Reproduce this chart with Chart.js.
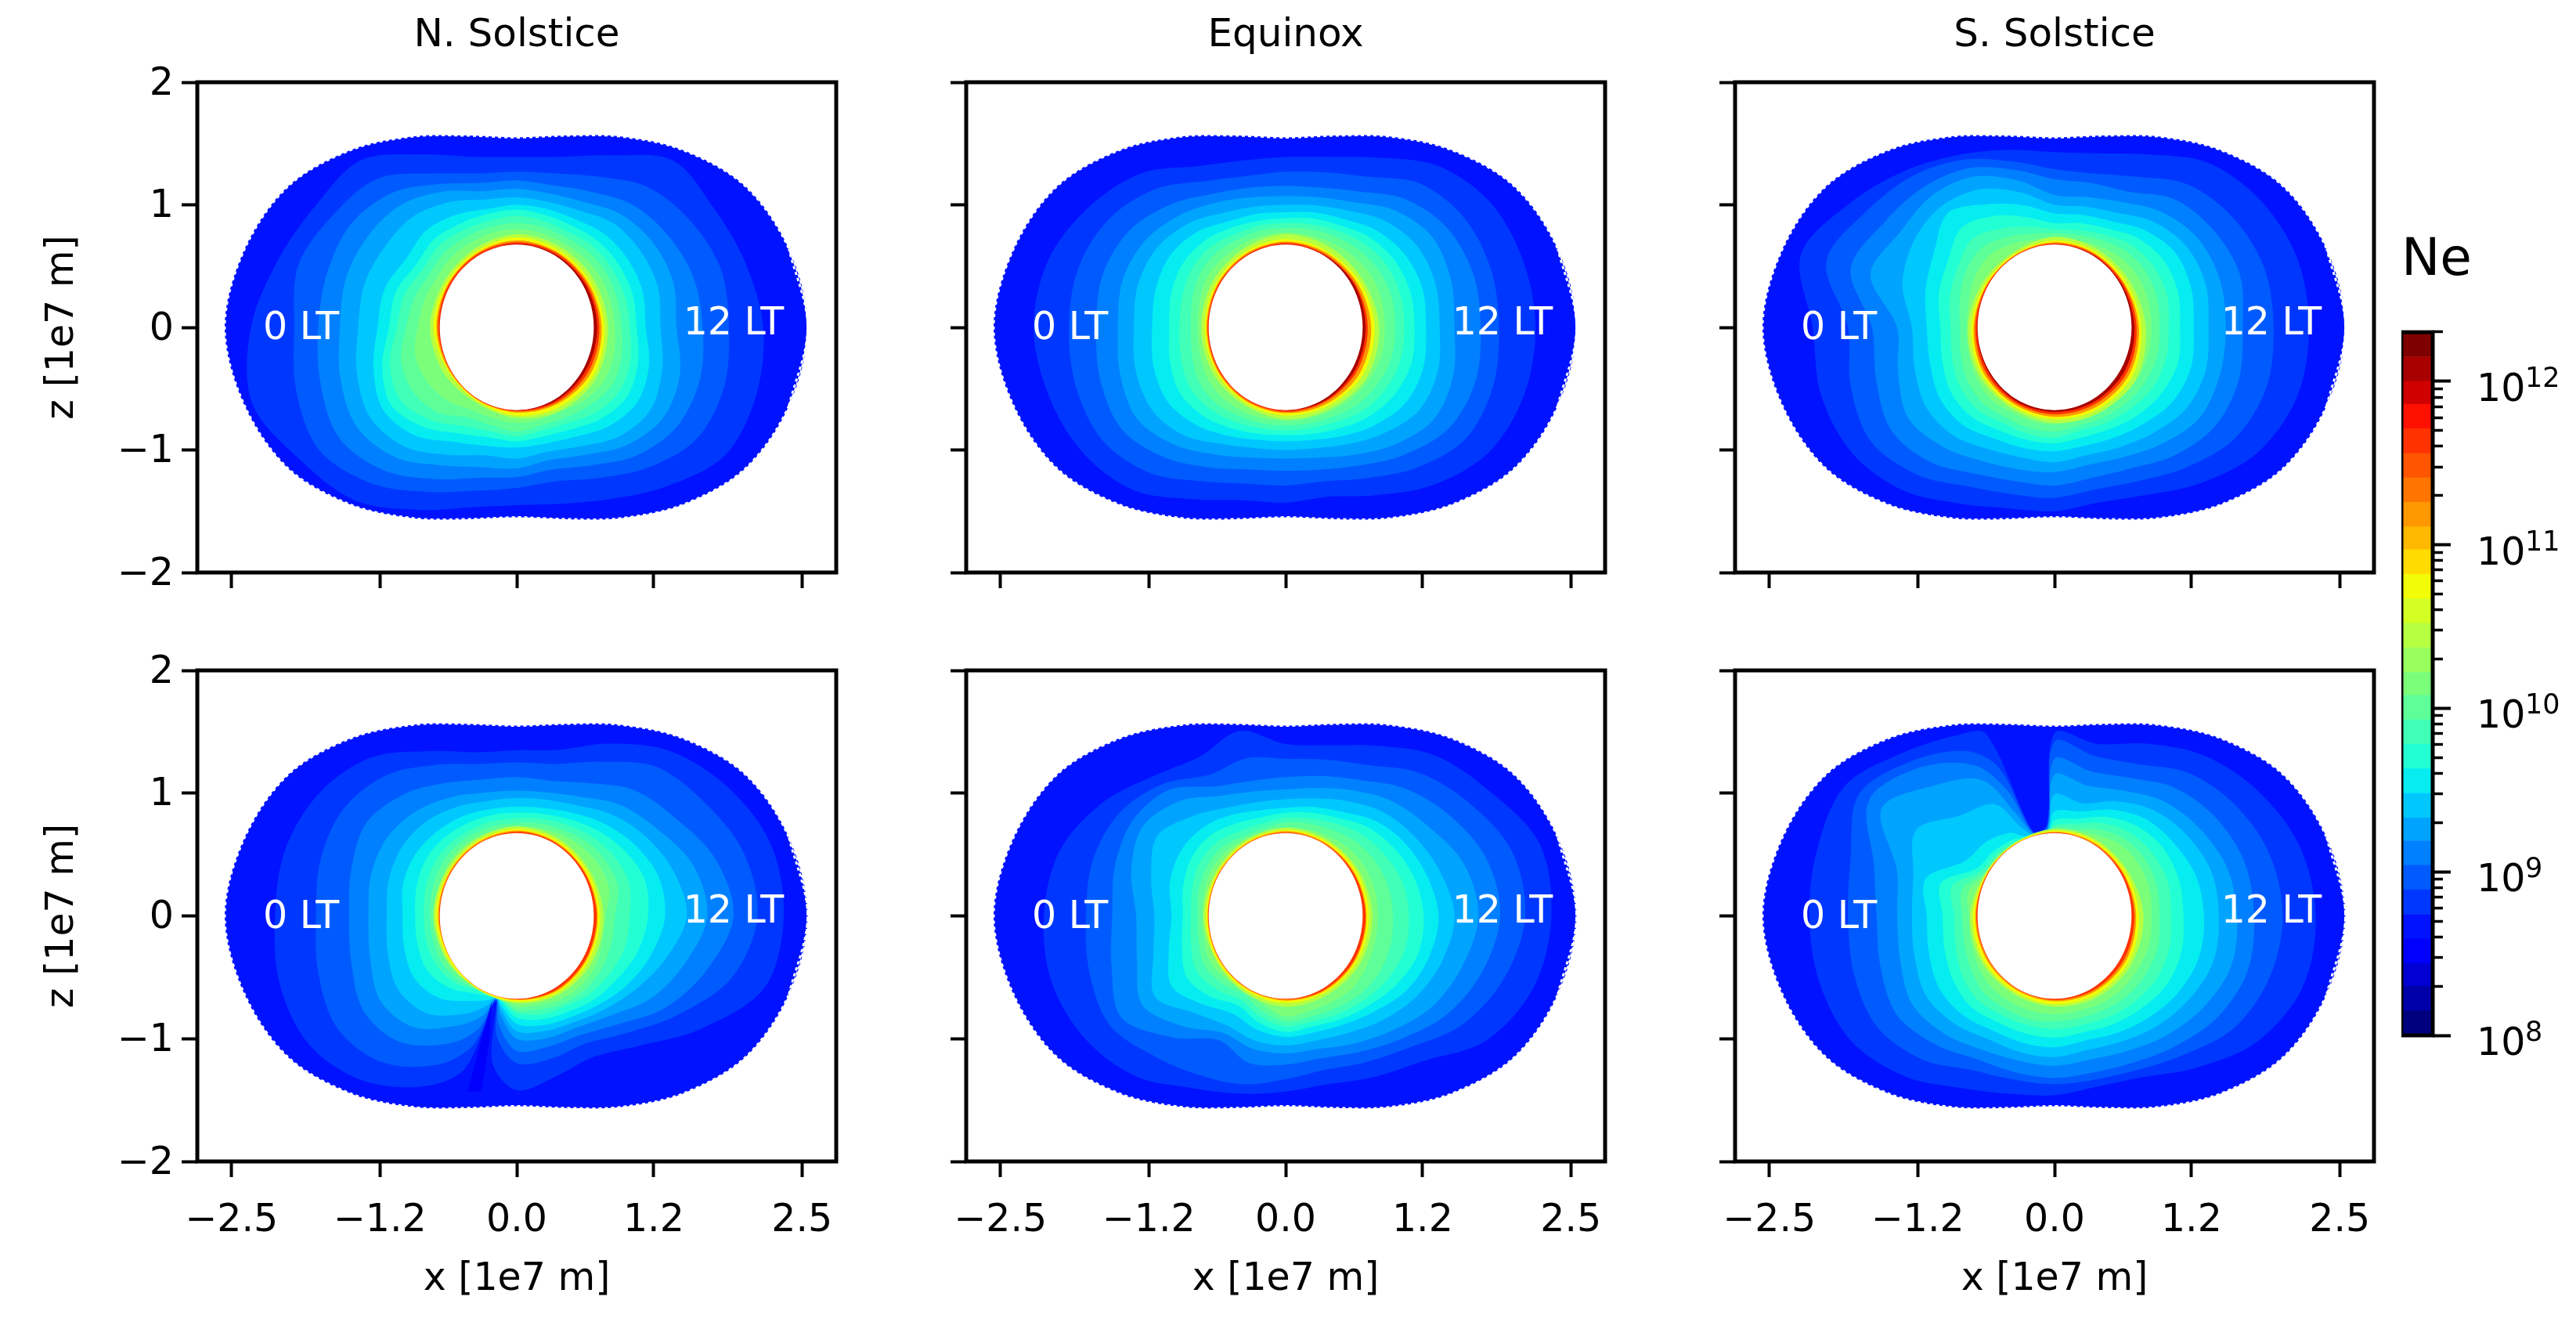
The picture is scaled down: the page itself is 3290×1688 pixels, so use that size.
<!DOCTYPE html>
<html>
<head>
<meta charset="utf-8">
<title>Ne</title>
<script src="https://cdn.jsdelivr.net/npm/chart.js@4"></script>
<style>
  html, body { margin: 0; background: #fff; }
  #page { position: relative; width: 3290px; height: 1688px; overflow: hidden; }
  canvas { position: absolute; }
</style>
</head>
<body>
<div id="page"></div>
<script>
// ray angles in degrees, radii below are in 1e7 m along these rays
const rays = [0,15,30,45,60,75,90,105,120,135,150,165,180,195,210,225,240,255,270,285,300,315,330,345];
const raysNotchBottom = [0,15,30,45,60,75,90,105,120,135,150,165,180,195,210,225,240,250,255,260,270,285,300,315,330,345];
const raysNotchTop = [0,15,30,45,60,75,90,95,105,112,120,135,150,165,180,195,210,225,240,255,270,285,300,315,330,345];
const rimRays = [0,30,60,90,120,150,180,210,240,270,300,330];

const outerRadii = [2.55,2.47,2.31,2.05,1.8,1.62,1.55,1.62,1.8,2.05,2.31,2.47,2.56,2.47,2.31,2.05,1.8,1.62,1.55,1.62,1.8,2.05,2.31,2.47];
const holeRadius = [0.675,0.675,0.675,0.675,0.675,0.675,0.675,0.675,0.675,0.675,0.675,0.675,0.675,0.675,0.675,0.675,0.675,0.675,0.675,0.675,0.675,0.675,0.675,0.675];

// colours of the contour bands, outermost first
const outerColor = '#0012ff';
const bandColors = ['#0037ff','#005bff','#0080ff','#00a4ff','#00c8ff','#06edf1','#23ffd4','#41ffb6','#5eff99','#7bff7b'];
const rimColors = ['#b6ff41','#f1fc06','#ff9700','#ff3200','#a80000'];

// N. Solstice, top row
const nsTopBands = [
  [2.16,2.07,1.98,1.93,1.62,1.44,1.39,1.44,1.63,1.93,2.02,2.16,2.33,2.40,2.18,2.0,1.72,1.52,1.45,1.49,1.62,1.84,2.1,2.17],
  [1.86,1.85,1.75,1.62,1.42,1.3,1.27,1.3,1.45,1.72,1.85,1.98,1.95,2.0,2.0,1.8,1.55,1.38,1.31,1.3,1.42,1.62,1.82,1.88],
  [1.63,1.6,1.52,1.42,1.28,1.2,1.2,1.22,1.35,1.55,1.68,1.72,1.74,1.78,1.8,1.65,1.43,1.27,1.22,1.2,1.3,1.48,1.62,1.66],
  [1.4,1.42,1.38,1.3,1.18,1.13,1.13,1.15,1.28,1.42,1.5,1.55,1.55,1.6,1.62,1.5,1.3,1.18,1.15,1.12,1.2,1.36,1.48,1.48],
  [1.26,1.28,1.25,1.2,1.1,1.06,1.06,1.08,1.18,1.28,1.33,1.38,1.39,1.45,1.48,1.38,1.2,1.08,1.07,1.05,1.12,1.26,1.35,1.32],
  [1.13,1.14,1.12,1.08,1.02,1.0,1.0,1.0,1.06,1.12,1.12,1.2,1.22,1.3,1.35,1.25,1.08,1.0,0.98,0.98,1.03,1.14,1.22,1.2],
  [1.05,1.05,1.03,1.0,0.96,0.95,0.96,0.96,0.98,1.02,1.02,1.1,1.12,1.22,1.27,1.15,1.0,0.93,0.93,0.92,0.96,1.05,1.12,1.1],
  [0.99,0.98,0.96,0.94,0.9,0.9,0.91,0.9,0.92,0.95,0.95,1.02,1.05,1.15,1.18,1.07,0.93,0.88,0.89,0.87,0.9,0.98,1.04,1.03],
  [0.92,0.91,0.9,0.88,0.85,0.85,0.85,0.85,0.86,0.88,0.88,0.93,0.97,1.05,1.05,0.98,0.85,0.83,0.85,0.83,0.85,0.9,0.96,0.95],
  [0.86,0.85,0.84,0.82,0.8,0.8,0.8,0.8,0.8,0.81,0.81,0.84,0.87,0.92,0.9,0.85,0.78,0.77,0.78,0.78,0.79,0.84,0.88,0.88]
];
const nsTopRim = [
  [0.8,0.78,0.76,0.76,0.74,0.74,0.76,0.74,0.71,0.74,0.78,0.81],
  [0.77,0.745,0.73,0.735,0.715,0.715,0.73,0.7,0.695,0.72,0.75,0.78],
  [0.745,0.725,0.71,0.71,0.7,0.7,0.705,0.69,0.685,0.695,0.72,0.75],
  [0.725,0.71,0.7,0.695,0.69,0.69,0.69,0.68,0.68,0.685,0.705,0.725],
  [0.705,0.695,0.685,0.68,0.675,0.675,0.675,0.675,0.675,0.675,0.69,0.7]
];

// Equinox, top row
const eqTopBands = [
  [2.19,2.15,2.06,1.87,1.6,1.44,1.39,1.41,1.52,1.78,1.98,2.15,2.21,2.15,2.05,1.88,1.62,1.46,1.43,1.43,1.58,1.82,2.05,2.16],
  [1.87,1.86,1.8,1.66,1.42,1.31,1.27,1.28,1.38,1.6,1.78,1.88,1.9,1.9,1.85,1.68,1.45,1.32,1.29,1.3,1.42,1.62,1.82,1.88],
  [1.71,1.7,1.63,1.48,1.28,1.18,1.155,1.18,1.26,1.42,1.58,1.66,1.66,1.68,1.66,1.5,1.32,1.2,1.17,1.2,1.3,1.47,1.65,1.72],
  [1.48,1.5,1.48,1.35,1.18,1.1,1.07,1.1,1.18,1.3,1.42,1.48,1.47,1.5,1.5,1.36,1.2,1.1,1.07,1.1,1.2,1.35,1.5,1.52],
  [1.35,1.36,1.33,1.23,1.1,1.03,1.0,1.02,1.08,1.2,1.3,1.34,1.33,1.36,1.35,1.25,1.1,1.02,1.0,1.02,1.1,1.22,1.35,1.38],
  [1.23,1.24,1.2,1.12,1.02,0.97,0.94,0.96,1.0,1.1,1.17,1.18,1.17,1.2,1.2,1.12,1.02,0.95,0.93,0.95,1.02,1.12,1.22,1.25],
  [1.13,1.13,1.1,1.04,0.96,0.92,0.89,0.9,0.94,1.0,1.04,1.04,1.02,1.05,1.07,1.02,0.95,0.9,0.88,0.9,0.95,1.03,1.1,1.14],
  [1.04,1.04,1.02,0.97,0.91,0.87,0.85,0.86,0.88,0.93,0.95,0.94,0.93,0.95,0.97,0.94,0.89,0.85,0.84,0.85,0.89,0.96,1.01,1.04],
  [0.96,0.96,0.94,0.9,0.86,0.83,0.81,0.82,0.83,0.86,0.87,0.85,0.83,0.85,0.88,0.87,0.83,0.81,0.8,0.81,0.84,0.89,0.93,0.96],
  [0.87,0.87,0.86,0.83,0.8,0.78,0.775,0.775,0.78,0.79,0.8,0.78,0.77,0.78,0.8,0.8,0.78,0.77,0.76,0.77,0.79,0.82,0.85,0.87]
];
const eqTopRim = [
  [0.82,0.78,0.76,0.76,0.74,0.74,0.74,0.74,0.73,0.75,0.77,0.82],
  [0.78,0.75,0.72,0.72,0.71,0.71,0.71,0.71,0.71,0.72,0.74,0.78],
  [0.75,0.725,0.705,0.7,0.695,0.695,0.695,0.695,0.695,0.7,0.72,0.75],
  [0.72,0.705,0.69,0.69,0.685,0.685,0.685,0.685,0.685,0.69,0.7,0.72],
  [0.7,0.695,0.68,0.675,0.675,0.675,0.675,0.675,0.675,0.675,0.69,0.7]
];

// S. Solstice, top row
const ssTopBands = [
  [2.23,2.2,2.08,1.9,1.63,1.47,1.43,1.5,1.63,1.82,2.05,2.3,2.12,2.12,2.05,1.88,1.66,1.53,1.5,1.48,1.58,1.8,2.05,2.2],
  [1.92,1.9,1.8,1.65,1.42,1.3,1.29,1.4,1.58,1.75,1.9,2.07,1.81,1.85,1.86,1.7,1.5,1.41,1.39,1.37,1.45,1.62,1.82,1.92],
  [1.65,1.68,1.6,1.48,1.28,1.22,1.21,1.33,1.5,1.62,1.72,1.85,1.6,1.62,1.66,1.55,1.38,1.3,1.29,1.27,1.33,1.48,1.62,1.67],
  [1.5,1.5,1.45,1.33,1.18,1.1,1.08,1.24,1.42,1.52,1.56,1.67,1.38,1.42,1.48,1.38,1.26,1.2,1.18,1.16,1.22,1.34,1.47,1.5],
  [1.35,1.37,1.33,1.22,1.08,1.02,1.0,1.14,1.3,1.4,1.42,1.38,1.25,1.27,1.3,1.25,1.15,1.1,1.1,1.08,1.13,1.22,1.33,1.37],
  [1.22,1.24,1.22,1.12,1.0,0.95,0.93,1.03,1.16,1.32,1.22,1.17,1.12,1.13,1.16,1.13,1.05,1.02,1.01,1.0,1.04,1.11,1.2,1.24],
  [1.1,1.12,1.1,1.03,0.93,0.88,0.85,0.93,1.05,1.15,1.08,1.05,1.0,1.02,1.05,1.03,0.97,0.95,0.945,0.93,0.96,1.02,1.08,1.12],
  [1.0,1.02,1.0,0.95,0.87,0.82,0.8,0.85,0.93,1.02,0.98,0.95,0.91,0.93,0.96,0.95,0.9,0.9,0.9,0.87,0.9,0.94,0.99,1.01],
  [0.92,0.93,0.92,0.88,0.82,0.78,0.77,0.79,0.85,0.91,0.9,0.86,0.83,0.85,0.88,0.88,0.85,0.85,0.85,0.83,0.85,0.88,0.91,0.93],
  [0.85,0.85,0.84,0.81,0.77,0.74,0.73,0.74,0.78,0.82,0.81,0.78,0.77,0.78,0.8,0.81,0.79,0.79,0.79,0.78,0.79,0.81,0.84,0.85]
];
const ssTopRim = [
  [0.8,0.76,0.74,0.74,0.71,0.73,0.76,0.77,0.76,0.78,0.8,0.83],
  [0.76,0.73,0.715,0.71,0.695,0.705,0.73,0.745,0.74,0.75,0.77,0.79],
  [0.74,0.71,0.7,0.695,0.685,0.69,0.71,0.725,0.72,0.73,0.745,0.76],
  [0.72,0.7,0.69,0.685,0.68,0.685,0.695,0.705,0.705,0.71,0.72,0.735],
  [0.7,0.685,0.68,0.675,0.675,0.675,0.68,0.685,0.69,0.69,0.7,0.71]
];

// N. Solstice, bottom row, dark notch near 255 degrees
const nsBotBands = [
  [2.34,2.3,2.12,1.9,1.62,1.4,1.35,1.38,1.55,1.82,2.0,2.1,2.12,2.15,2.1,1.9,1.6,1.32,0.72,1.22,1.42,1.35,1.33,1.5,1.85,2.25],
  [2.11,2.05,1.88,1.72,1.45,1.28,1.25,1.28,1.42,1.62,1.75,1.78,1.76,1.8,1.82,1.68,1.4,1.12,0.71,1.0,1.2,1.2,1.2,1.35,1.62,1.95],
  [1.9,1.8,1.6,1.45,1.25,1.14,1.13,1.15,1.25,1.4,1.52,1.5,1.47,1.5,1.55,1.45,1.2,0.98,0.7,0.9,1.1,1.1,1.12,1.25,1.5,1.72],
  [1.67,1.6,1.42,1.28,1.12,1.04,1.02,1.04,1.12,1.22,1.3,1.32,1.3,1.33,1.38,1.28,1.03,0.86,0.7,0.82,1.0,1.03,1.05,1.15,1.35,1.52],
  [1.49,1.42,1.3,1.17,1.04,0.98,0.96,0.97,1.03,1.1,1.15,1.16,1.14,1.17,1.2,1.12,0.92,0.78,0.69,0.78,0.94,0.97,1.0,1.08,1.2,1.35],
  [1.3,1.28,1.18,1.07,0.97,0.91,0.89,0.9,0.94,0.98,1.02,1.03,1.0,1.02,1.03,0.95,0.8,0.73,0.69,0.75,0.88,0.92,0.95,1.02,1.12,1.22],
  [1.15,1.16,1.08,0.99,0.91,0.86,0.84,0.85,0.87,0.9,0.92,0.91,0.89,0.9,0.9,0.83,0.73,0.7,0.68,0.72,0.83,0.87,0.9,0.96,1.02,1.1],
  [0.99,1.02,0.98,0.92,0.86,0.82,0.795,0.8,0.81,0.83,0.84,0.83,0.815,0.82,0.81,0.77,0.7,0.69,0.68,0.71,0.79,0.83,0.85,0.9,0.94,0.98],
  [0.86,0.92,0.9,0.86,0.81,0.78,0.755,0.76,0.77,0.78,0.78,0.77,0.76,0.76,0.76,0.73,0.69,0.68,0.68,0.7,0.77,0.79,0.82,0.85,0.86,0.86],
  [0.78,0.84,0.83,0.8,0.77,0.74,0.72,0.72,0.73,0.74,0.73,0.72,0.72,0.72,0.72,0.7,0.685,0.68,0.68,0.69,0.74,0.75,0.78,0.8,0.8,0.78]
];
const nsBotRim = [
  [0.76,0.74,0.73,0.73,0.72,0.72,0.73,0.71,0.69,0.71,0.74,0.76],
  [0.73,0.72,0.71,0.71,0.7,0.7,0.71,0.695,0.685,0.7,0.72,0.73],
  [0.71,0.7,0.695,0.695,0.69,0.69,0.69,0.68,0.68,0.685,0.705,0.71],
  [0.7,0.69,0.685,0.685,0.68,0.68,0.68,0.675,0.675,0.68,0.695,0.7]
];
// darkest streak inside the notch
const nsBotStreakX = [-0.22,-0.31,-0.43,-0.31,-0.24,-0.22];
const nsBotStreakZ = [-0.7,-1.01,-1.43,-1.43,-1.01,-0.7];

// Equinox, bottom row
const eqBotBands = [
  [2.33,2.3,2.05,1.85,1.6,1.44,1.4,1.56,1.5,1.62,1.85,2.05,2.12,2.12,2.02,1.85,1.62,1.5,1.43,1.42,1.52,1.68,2.03,2.25],
  [2.1,2.05,1.85,1.65,1.42,1.32,1.28,1.33,1.33,1.52,1.68,1.75,1.75,1.78,1.78,1.62,1.5,1.42,1.33,1.3,1.38,1.52,1.78,1.98],
  [1.88,1.82,1.65,1.47,1.28,1.18,1.13,1.14,1.22,1.45,1.55,1.55,1.52,1.58,1.66,1.4,1.17,1.24,1.21,1.2,1.28,1.42,1.62,1.78],
  [1.69,1.62,1.45,1.32,1.18,1.08,1.03,1.05,1.13,1.32,1.45,1.4,1.31,1.35,1.45,1.27,1.1,1.12,1.12,1.12,1.2,1.32,1.48,1.6],
  [1.48,1.4,1.3,1.2,1.08,0.99,0.95,0.96,1.02,1.15,1.3,1.22,1.15,1.2,1.32,1.12,1.03,1.05,1.055,1.05,1.1,1.2,1.32,1.42],
  [1.34,1.28,1.2,1.1,0.98,0.92,0.88,0.89,0.95,1.02,1.06,1.05,1.0,1.06,1.15,1.02,0.92,0.96,0.985,0.98,1.02,1.1,1.22,1.3],
  [1.21,1.17,1.1,1.02,0.92,0.87,0.84,0.83,0.87,0.93,0.95,0.93,0.9,0.94,1.0,0.93,0.84,0.9,0.945,0.93,0.97,1.03,1.12,1.2],
  [1.08,1.06,1.0,0.94,0.87,0.82,0.8,0.78,0.8,0.85,0.87,0.85,0.83,0.86,0.9,0.85,0.79,0.85,0.9,0.89,0.92,0.97,1.03,1.08],
  [0.94,0.93,0.9,0.86,0.81,0.78,0.76,0.74,0.75,0.79,0.8,0.79,0.77,0.79,0.82,0.78,0.74,0.8,0.86,0.85,0.87,0.91,0.94,0.95],
  [0.81,0.81,0.8,0.78,0.75,0.73,0.72,0.71,0.72,0.74,0.75,0.74,0.73,0.74,0.76,0.73,0.71,0.75,0.82,0.8,0.81,0.83,0.82,0.81]
];
const eqBotRim = [
  [0.76,0.74,0.72,0.72,0.71,0.71,0.72,0.71,0.72,0.74,0.74,0.76],
  [0.73,0.72,0.705,0.7,0.695,0.695,0.7,0.7,0.7,0.71,0.715,0.73],
  [0.71,0.7,0.69,0.69,0.685,0.685,0.685,0.685,0.685,0.69,0.7,0.71],
  [0.7,0.69,0.68,0.68,0.678,0.678,0.68,0.678,0.678,0.68,0.69,0.7]
];

// S. Solstice, bottom row, dark notch near 100 degrees
const ssBotBands = [
  [2.29,2.22,2.05,1.85,1.62,1.45,1.49,0.75,0.7,1.6,1.7,1.88,2.12,2.15,2.15,2.13,2.05,1.85,1.62,1.5,1.46,1.44,1.52,1.75,2.05,2.25],
  [2.0,1.95,1.82,1.65,1.43,1.35,1.42,0.74,0.7,1.3,1.55,1.78,1.98,1.85,1.81,1.82,1.8,1.65,1.45,1.38,1.37,1.38,1.45,1.6,1.82,1.95],
  [1.75,1.72,1.62,1.48,1.3,1.22,1.28,0.72,0.69,1.1,1.42,1.7,1.88,1.64,1.56,1.58,1.6,1.48,1.35,1.32,1.32,1.32,1.38,1.5,1.65,1.75],
  [1.6,1.56,1.45,1.33,1.18,1.1,1.15,0.71,0.69,0.9,1.28,1.5,1.75,1.43,1.38,1.4,1.44,1.36,1.26,1.22,1.22,1.21,1.27,1.38,1.5,1.6],
  [1.44,1.42,1.33,1.22,1.08,0.95,0.99,0.7,0.68,0.78,1.05,1.16,1.4,1.28,1.25,1.27,1.3,1.24,1.16,1.15,1.15,1.13,1.18,1.27,1.36,1.44],
  [1.31,1.28,1.2,1.12,1.0,0.88,0.85,0.69,0.68,0.7,0.78,0.85,0.9,1.17,1.12,1.14,1.17,1.14,1.08,1.07,1.07,1.05,1.1,1.17,1.25,1.31],
  [1.13,1.13,1.1,1.03,0.93,0.82,0.78,0.68,0.68,0.69,0.72,0.75,0.78,1.03,0.98,1.0,1.03,1.04,1.0,0.99,0.99,0.98,1.02,1.07,1.13,1.15],
  [1.02,1.03,1.0,0.95,0.87,0.78,0.74,0.68,0.68,0.68,0.7,0.72,0.74,0.93,0.88,0.9,0.94,0.96,0.93,0.92,0.92,0.92,0.95,0.99,1.03,1.04],
  [0.92,0.93,0.92,0.88,0.81,0.74,0.72,0.68,0.68,0.68,0.69,0.7,0.71,0.84,0.81,0.82,0.85,0.88,0.87,0.87,0.86,0.86,0.88,0.91,0.93,0.94],
  [0.85,0.86,0.85,0.82,0.76,0.72,0.7,0.68,0.68,0.68,0.68,0.69,0.69,0.78,0.75,0.76,0.78,0.8,0.8,0.8,0.8,0.8,0.82,0.84,0.85,0.86]
];
const ssBotRim = [
  [0.78,0.74,0.72,0.71,0.69,0.7,0.74,0.74,0.73,0.74,0.76,0.78],
  [0.74,0.72,0.705,0.695,0.685,0.69,0.715,0.72,0.71,0.72,0.735,0.75],
  [0.715,0.7,0.69,0.685,0.68,0.685,0.695,0.695,0.69,0.695,0.71,0.725],
  [0.7,0.69,0.68,0.68,0.678,0.68,0.685,0.68,0.68,0.685,0.695,0.705]
];

// axes
const xTickValues = [-2.5,-1.2,0,1.2,2.5];
const xTickLabels = ['\u22122.5','\u22121.2','0.0','1.2','2.5'];
const yTickValues = [2,1,0,-1,-2];
const yTickLabels = ['2','1','0','\u22121','\u22122'];
const panelTitles = ['N. Solstice','Equinox','S. Solstice'];
const ltLabels = ['0 LT','12 LT'];
const ltX = [-1.89,1.9];
const ltZ = [-0.015,0.025];

// colour bar
const levelExps = [8.00,8.15,8.30,8.44,8.59,8.74,8.89,9.04,9.19,9.33,9.48,9.63,9.78,9.93,10.08,10.22,10.37,10.52,10.67,10.82,10.97,11.11,11.26,11.41,11.56,11.71,11.86,12.00,12.15,12.30];
const levelColors = ['#00007f','#0000a9','#0000d2','#0000fc','#0012ff','#0037ff','#005bff','#0080ff','#00a4ff','#00c8ff','#06edf1','#23ffd4','#41ffb6','#5eff99','#7bff7b','#99ff5e','#b6ff41','#d4ff23','#f1fc06','#ffdb00','#ffb900','#ff9700','#ff7500','#ff5400','#ff3200','#ff1000','#d10000','#a80000','#7f0000'];
const cbarMajor = [1e8,1e9,1e10,1e11,1e12];
const cbarExponents = ['8','9','10','11','12'];
const cbarMinor = [2e8,3e8,4e8,5e8,6e8,7e8,8e8,9e8,2e9,3e9,4e9,5e9,6e9,7e9,8e9,9e9,2e10,3e10,4e10,5e10,6e10,7e10,8e10,9e10,2e11,3e11,4e11,5e11,6e11,7e11,8e11,9e11,2e12];

const font = 'DejaVu Sans';
const page = document.getElementById('page');

function addCanvas(left, top, width, height) {
  const c = document.createElement('canvas');
  c.width = width;
  c.height = height;
  c.style.left = left + 'px';
  c.style.top = top + 'px';
  c.style.width = width + 'px';
  c.style.height = height + 'px';
  page.appendChild(c);
  return c;
}

// wraps two extra points round the seam so the spline closes without a kink
function polarPoints(angles, radii) {
  const pts = angles.map((a, i) => ({
    x: radii[i] * Math.cos(a * Math.PI / 180),
    y: radii[i] * Math.sin(a * Math.PI / 180)
  }));
  return [pts[pts.length - 1], ...pts, pts[0], pts[1]];
}

function shape(points, color, extra) {
  return Object.assign({
    data: points, showLine: true, fill: 'shape', backgroundColor: color,
    borderWidth: 0, pointRadius: 0, tension: 0.33
  }, extra || {});
}

// draws the box around the plot and the white local time labels
const panelFrame = {
  id: 'panelFrame',
  afterDatasetsDraw(chart) {
    const { ctx, scales } = chart;
    ctx.save();
    ctx.fillStyle = '#fff';
    ctx.font = '49px "' + font + '"';
    ctx.textAlign = 'center';
    ctx.textBaseline = 'middle';
    ltLabels.forEach((t, i) => {
      ctx.fillText(t, scales.x.getPixelForValue(ltX[i]), scales.y.getPixelForValue(ltZ[i]));
    });
    ctx.restore();
  },
  afterDraw(chart) {
    const { ctx, chartArea: a } = chart;
    ctx.save();
    ctx.strokeStyle = '#000';
    ctx.lineWidth = 5;
    ctx.strokeRect(a.left, a.top, a.right - a.left, a.bottom - a.top);
    ctx.restore();
  }
};

const marginX = 240, marginTop = 104, marginBottom = 205, plotW = 816;

function makePanel(col, row, angles, bands, rim, streak) {
  const lefts = [252, 1234, 2216];
  const tops = [1, 752];
  const plotH = row === 0 ? 626 : 627;
  const w = marginX * 2 + plotW, h = marginTop + plotH + marginBottom;
  const canvas = addCanvas(lefts[col] - marginX, tops[row], w, h);

  // painted last to first, so the hole goes at the front of the list
  const datasets = [shape(polarPoints(rays, holeRadius), '#ffffff')];
  for (let i = rim.length - 1; i >= 0; i--) {
    datasets.push(shape(polarPoints(rimRays, rim[i]), rimColors[i]));
  }
  if (streak) {
    datasets.push(shape(streak, '#0000fc', { tension: 0 }));
  }
  for (let i = bands.length - 1; i >= 0; i--) {
    datasets.push(shape(polarPoints(angles, bands[i]), bandColors[i]));
  }
  datasets.push(shape(polarPoints(rays, outerRadii), outerColor, {
    borderWidth: 3, borderColor: '#ffffff', borderDash: [4, 4]
  }));

  new Chart(canvas, {
    type: 'scatter',
    data: { datasets },
    options: {
      responsive: false,
      animation: false,
      layout: { padding: { top: row === 0 ? 0 : marginTop, right: marginX } },
      plugins: {
        legend: { display: false },
        tooltip: { enabled: false },
        title: {
          display: row === 0,
          fullSize: false,
          text: panelTitles[col],
          color: '#000',
          font: { family: font, size: 50, weight: 'normal' },
          padding: { top: 15, bottom: 29 }
        }
      },
      scales: {
        x: {
          type: 'linear', min: -2.8, max: 2.8,
          afterBuildTicks: s => { s.ticks = xTickValues.map(v => ({ value: v })); },
          afterFit: s => { s.height = marginBottom; },
          grid: { drawOnChartArea: false, tickLength: 20, tickWidth: 4, tickColor: '#000' },
          border: { display: false },
          ticks: {
            display: row === 1, autoSkip: false, maxRotation: 0, padding: 27,
            color: '#000', font: { family: font, size: 49 },
            callback: (v) => xTickLabels[xTickValues.indexOf(v)]
          },
          title: {
            display: row === 1, text: 'x [1e7 m]', color: '#000',
            font: { family: font, size: 49 }, padding: { top: 0, bottom: 24 }
          }
        },
        y: {
          type: 'linear', min: -2, max: 2,
          afterBuildTicks: s => { s.ticks = yTickValues.map(v => ({ value: v })); },
          afterFit: s => { s.width = marginX; },
          grid: { drawOnChartArea: false, tickLength: 20, tickWidth: 4, tickColor: '#000' },
          border: { display: false },
          ticks: {
            display: col === 0, autoSkip: false, padding: 10, labelOffset: 3,
            color: '#000', font: { family: font, size: 49 },
            callback: (v) => yTickLabels[yTickValues.indexOf(v)]
          },
          title: {
            display: col === 0, text: 'z [1e7 m]', color: '#000',
            font: { family: font, size: 49 }, padding: { top: 39, bottom: 0 }
          }
        }
      }
    },
    plugins: [panelFrame]
  });
}

makePanel(0, 0, rays, nsTopBands, nsTopRim);
makePanel(1, 0, rays, eqTopBands, eqTopRim);
makePanel(2, 0, rays, ssTopBands, ssTopRim);
makePanel(0, 1, raysNotchBottom, nsBotBands, nsBotRim, nsBotStreakX.map((x, i) => ({ x, y: nsBotStreakZ[i] })));
makePanel(1, 1, rays, eqBotBands, eqBotRim);
makePanel(2, 1, raysNotchTop, ssBotBands, ssBotRim);

// colour bar, one floating bar per contour level
const cbarCanvas = addCanvas(3067, 250, 223, 1102);
new Chart(cbarCanvas, {
  type: 'bar',
  data: {
    labels: ['Ne'],
    datasets: levelColors.map((color, i) => ({
      data: [[Math.pow(10, levelExps[i]), Math.pow(10, levelExps[i + 1])]],
      backgroundColor: color,
      borderWidth: 0,
      grouped: false,
      barPercentage: 1,
      categoryPercentage: 1
    }))
  },
  options: {
    responsive: false,
    animation: false,
    layout: { padding: { bottom: 30 } },
    plugins: {
      legend: { display: false },
      tooltip: { enabled: false },
      title: {
        display: true, text: 'Ne', color: '#000', align: 'start',
        font: { family: font, size: 66, weight: 'normal' },
        padding: { top: 44, bottom: 51 }
      }
    },
    scales: {
      x: { display: false },
      yMinor: {
        type: 'logarithmic', position: 'right', min: 1e8, max: Math.pow(10, 12.3), weight: 0,
        afterBuildTicks: s => { s.ticks = cbarMinor.map(v => ({ value: v })); },
        afterFit: s => { s.width = 0; },
        grid: { drawOnChartArea: false, tickLength: 13, tickWidth: 3.5, tickColor: '#000' },
        border: { display: false },
        ticks: { display: false, autoSkip: false }
      },
      y: {
        type: 'logarithmic', position: 'right', min: 1e8, max: Math.pow(10, 12.3), weight: 1,
        afterBuildTicks: s => { s.ticks = cbarMajor.map(v => ({ value: v })); },
        afterFit: s => { s.width = 183; },
        grid: { drawOnChartArea: false, tickLength: 23, tickWidth: 4, tickColor: '#000' },
        border: { display: false },
        ticks: { display: false, autoSkip: false }
      }
    }
  },
  plugins: [{
    id: 'cbarFrame',
    afterDraw(chart) {
      const { ctx, chartArea: a, scales } = chart;
      ctx.save();
      ctx.strokeStyle = '#000';
      ctx.lineWidth = 5;
      ctx.strokeRect(a.left, a.top, a.right - a.left, a.bottom - a.top);
      // tick labels as base and raised exponent
      ctx.fillStyle = '#000';
      ctx.textAlign = 'left';
      ctx.textBaseline = 'alphabetic';
      cbarMajor.forEach((v, i) => {
        const y = scales.y.getPixelForValue(v);
        ctx.font = '49px "' + font + '"';
        ctx.fillText('10', a.right + 56, y + 25);
        ctx.font = '35px "' + font + '"';
        ctx.fillText(cbarExponents[i], a.right + 118, y + 7);
      });
      ctx.restore();
    }
  }]
});
</script>
</body>
</html>
